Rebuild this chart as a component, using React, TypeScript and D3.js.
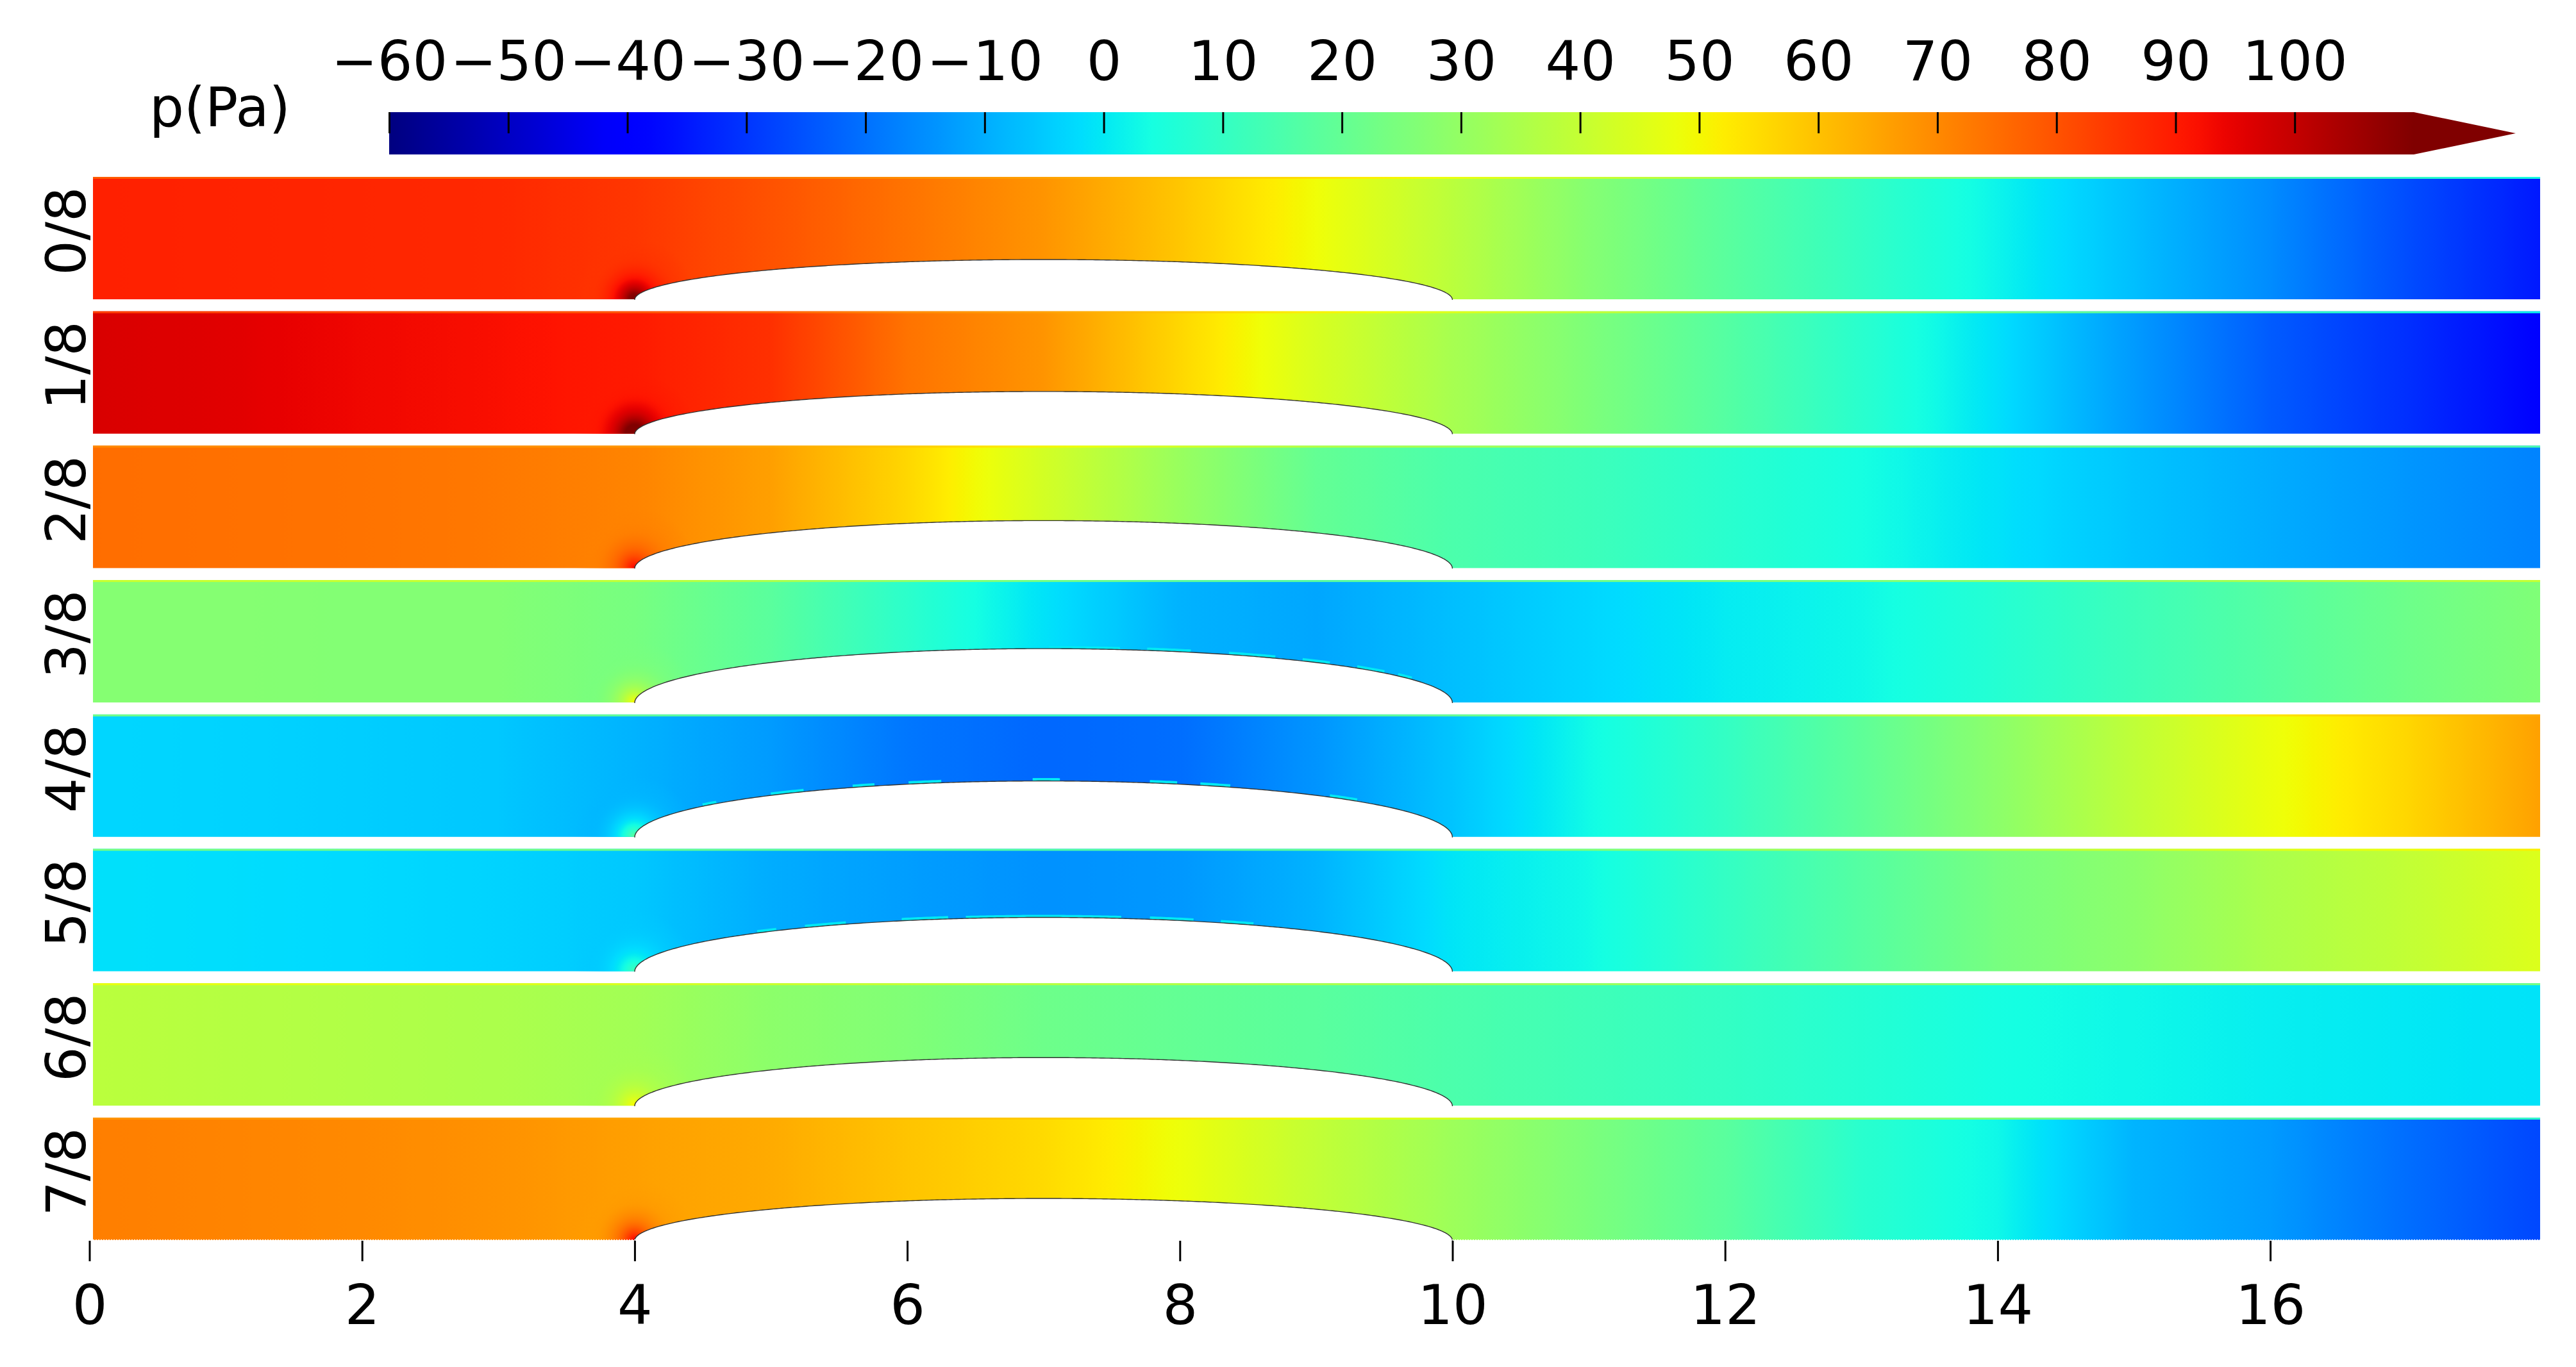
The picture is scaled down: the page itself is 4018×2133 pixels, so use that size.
import * as d3 from "d3";
import { useEffect, useRef } from "react";

const WIDTH = 4018;
const HEIGHT = 2133;

// phase of the cycle, one channel per row
const phases = ["0/8", "1/8", "2/8", "3/8", "4/8", "5/8", "6/8", "7/8"];

// streamwise stations (x = 0, 1, ... 18) where the pressure was read
const stations = d3.range(0, 19);

// pressure in Pa at each station, one list per phase
const p0 = [89, 88.5, 88, 87.5, 85, 80, 74, 68, 59, 49, 38, 27, 18, 10, 2, -7, -15.5, -26, -35];
const p1 = [97, 95.7, 93.5, 92, 90, 86, 74, 68, 56, 44, 34, 25.4, 17, 8, -1.4, -13, -23.5, -31, -39];
const p2 = [75, 74.5, 74, 73, 71, 66, 56, 43, 31, 20, 15, 12, 8, 4, -1, -6, -10, -13.7, -17];
const p3 = [27, 27, 26.5, 26.5, 24, 18, 8.5, -1, -9, -11, -7, -3, 0.5, 2.7, 7, 12, 17, 22, 26];
const p4 = [-3, -3.5, -4.5, -5.5, -9, -13, -19, -21.5, -20.5, -14, -6, 3, 10, 19, 28.5, 39, 48, 56, 66];
const p5 = [-1.3, -1.8, -2.5, -3.5, -5.5, -10, -12.5, -14.5, -13.5, -9, -0.5, 3, 10, 17, 24, 28.5, 35, 39.5, 45];
const p6 = [38, 37, 36, 35, 33, 28.5, 26, 22, 20, 18, 15, 12.5, 10, 7, 4, 2.5, 1, 0, -1];
const p7 = [72, 71, 70, 68.5, 66, 64, 59.5, 55.5, 48.5, 39.5, 32, 25, 18, 8, 2.5, -8.7, -13, -20.5, -27];
const pressures = [p0, p1, p2, p3, p4, p5, p6, p7];

// pressure at the corner where the hump starts
const cornerPeaks = [120, 130, 95, 52, 20, 14, 52, 95];

// hump height as a share of the channel height
const humpRise = [0.33, 0.35, 0.393, 0.445, 0.462, 0.445, 0.398, 0.345];

// stretches of the hump wall with the bright cell artefact, [from x, to x]
const wallPatches: [number, number][][] = [
  [],
  [],
  [],
  [[7.04, 7.56], [7.76, 8.08], [8.36, 8.7], [8.9, 9.1], [9.3, 9.5], [9.6, 9.7]],
  [[4.5, 4.6], [5.0, 5.25], [5.6, 5.76], [6.01, 6.26], [6.92, 7.12], [7.78, 7.98], [8.15, 8.37], [9.1, 9.3]],
  [[4.9, 5.05], [5.25, 5.55], [5.96, 6.3], [6.43, 7.57], [7.78, 8.1], [8.3, 8.55]],
  [],
  [],
];

const xTicks = [0, 2, 4, 6, 8, 10, 12, 14, 16];
const barTicks = [-60, -50, -40, -30, -20, -10, 0, 10, 20, 30, 40, 50, 60, 70, 80, 90, 100];

// matplotlib jet
const jetR = d3.scaleLinear().domain([0, 0.35, 0.66, 0.89, 1]).range([0, 0, 1, 1, 0.5]).clamp(true);
const jetG = d3.scaleLinear().domain([0, 0.125, 0.375, 0.64, 0.91, 1]).range([0, 0, 1, 1, 0, 0]).clamp(true);
const jetB = d3.scaleLinear().domain([0, 0.11, 0.34, 0.65, 1]).range([0.5, 1, 1, 0, 0]).clamp(true);
const norm = d3.scaleLinear().domain([-60, 110]).range([0, 1]).clamp(true);
const jet = (p: number) => {
  const t = norm(p);
  return d3.rgb(jetR(t) * 255, jetG(t) * 255, jetB(t) * 255).formatHex();
};

const FONT = "DejaVu Sans";
const FONT_SIZE = 86;
const SPOT_RADIUS = 95;

const App = () => {
  const ref = useRef<SVGSVGElement | null>(null);

  useEffect(() => {
    if (!ref.current) return;
    const svg = d3.select(ref.current);
    svg.selectAll("*").remove();
    const defs = svg.append("defs");

    const x = d3.scaleLinear().domain([0, 18]).range([139.5, 3966.3]);
    const barX = d3.scaleLinear().domain([-60, 110]).range([607, 3765]);
    const row = d3
      .scaleBand()
      .domain(phases)
      .range([276, 276 + 7 * 209.7 + 191])
      .paddingInner(0.0892);

    const channelLeft = x(0.026);
    const channelRight = x(17.98);

    // colorbar
    const barGrad = defs
      .append("linearGradient")
      .attr("id", "bar-grad")
      .attr("gradientUnits", "userSpaceOnUse")
      .attr("x1", barX(-60))
      .attr("x2", barX(110));
    d3.range(-60, 110.5, 2).forEach((p) => {
      barGrad.append("stop").attr("offset", norm(p)).attr("stop-color", jet(p));
    });
    svg
      .append("rect")
      .attr("x", barX(-60))
      .attr("y", 175)
      .attr("width", barX(110) - barX(-60))
      .attr("height", 66)
      .attr("fill", "url(#bar-grad)");
    svg
      .append("path")
      .attr("d", `M${barX(110)},175L3924,208L${barX(110)},241Z`)
      .attr("fill", jet(110));

    const barAxis = svg
      .append("g")
      .attr("transform", "translate(0,175)")
      .call(d3.axisTop(barX).tickValues(barTicks).tickSize(-33).tickPadding(50));
    barAxis.select(".domain").remove();
    barAxis.selectAll("line").attr("stroke", "#000").attr("stroke-width", 3);
    barAxis.selectAll("text").attr("font-family", FONT).attr("font-size", FONT_SIZE).attr("fill", "#000");

    svg
      .append("text")
      .attr("x", 233)
      .attr("y", 197)
      .attr("font-family", FONT)
      .attr("font-size", 85)
      .text("p(Pa)");

    // channels
    phases.forEach((phase, i) => {
      const top = row(phase)!;
      const h = row.bandwidth();
      const bottom = top + h;
      const y = d3.scaleLinear().domain([0, 1]).range([bottom, top]);
      const profile = d3.scaleLinear().domain(stations).range(pressures[i]);
      const g = svg.append("g");

      const grad = defs
        .append("linearGradient")
        .attr("id", `field-${i}`)
        .attr("gradientUnits", "userSpaceOnUse")
        .attr("x1", x(0))
        .attr("x2", x(18));
      const edge = defs
        .append("linearGradient")
        .attr("id", `edge-${i}`)
        .attr("gradientUnits", "userSpaceOnUse")
        .attr("x1", x(0))
        .attr("x2", x(18));
      d3.range(0, 18.01, 0.1).forEach((v) => {
        grad.append("stop").attr("offset", v / 18).attr("stop-color", jet(profile(v)));
        edge.append("stop").attr("offset", v / 18).attr("stop-color", jet(0.6 * profile(v) + 25));
      });

      g.append("rect")
        .attr("x", channelLeft)
        .attr("y", top)
        .attr("width", channelRight - channelLeft)
        .attr("height", h)
        .attr("fill", `url(#field-${i})`);
      g.append("rect")
        .attr("x", channelLeft)
        .attr("y", top)
        .attr("width", channelRight - channelLeft)
        .attr("height", 3)
        .attr("fill", `url(#edge-${i})`);

      // pressure spot in the corner at the start of the hump
      const ambient = profile(3.8);
      const spot = defs
        .append("radialGradient")
        .attr("id", `spot-${i}`)
        .attr("gradientUnits", "userSpaceOnUse")
        .attr("cx", x(4))
        .attr("cy", bottom)
        .attr("r", SPOT_RADIUS);
      d3.range(0, 1.001, 0.05).forEach((d) => {
        spot
          .append("stop")
          .attr("offset", d)
          .attr("stop-color", jet(ambient + (cornerPeaks[i] - ambient) * Math.pow(1 - d, 4)))
          .attr("stop-opacity", d < 0.5 ? 1 : (1 - d) * 2);
      });
      defs
        .append("clipPath")
        .attr("id", `clip-${i}`)
        .append("rect")
        .attr("x", channelLeft)
        .attr("y", top)
        .attr("width", channelRight - channelLeft)
        .attr("height", h);
      g.append("circle")
        .attr("cx", x(4))
        .attr("cy", bottom)
        .attr("r", SPOT_RADIUS)
        .attr("clip-path", `url(#clip-${i})`)
        .attr("fill", `url(#spot-${i})`);

      // elliptic hump, cut out of the field
      const wall = (v: number) =>
        humpRise[i] * Math.sqrt(Math.max(0, 1 - Math.pow((v - 7) / 3, 2)));
      const humpLine = d3
        .line<number>()
        .x((v) => x(v))
        .y((v) => y(wall(v)));

      wallPatches[i].forEach(([from, to]) => {
        g.append("path")
          .attr("d", humpLine(d3.range(from, to + 0.001, 0.02)))
          .attr("fill", "none")
          .attr("stroke", jet(0))
          .attr("stroke-width", to - from > 0.5 ? 6 : 7);
      });

      const humpPoints = [...d3.range(4, 4.1, 0.002), ...d3.range(4.1, 9.9, 0.02), ...d3.range(9.9, 10.0001, 0.002)];
      g.append("path")
        .attr("d", humpLine(humpPoints))
        .attr("transform", "translate(0,1)")
        .attr("fill", "#fff")
        .attr("stroke", "#333")
        .attr("stroke-width", 1.4);
      // hide the closing edge of the stroke under the hump
      g.append("rect")
        .attr("x", x(4) - 2)
        .attr("y", bottom + 1)
        .attr("width", x(10) - x(4) + 4)
        .attr("height", 6)
        .attr("fill", "#fff");

      g.append("text")
        .attr("transform", `translate(133,${top + h / 2 - 11}) rotate(-90)`)
        .attr("text-anchor", "middle")
        .attr("font-family", FONT)
        .attr("font-size", FONT_SIZE)
        .text(phase);
    });

    // the mesh leaves a dotted lower edge on the last channel
    const lastBottom = row(phases[7])! + row.bandwidth();
    svg
      .append("line")
      .attr("x1", channelLeft)
      .attr("x2", channelRight)
      .attr("y1", lastBottom - 0.5)
      .attr("y2", lastBottom - 0.5)
      .attr("stroke", "#fff")
      .attr("stroke-width", 1)
      .attr("stroke-dasharray", "2 2");

    // x axis
    const axis = svg
      .append("g")
      .attr("transform", "translate(0,1936)")
      .call(d3.axisBottom(x).tickValues(xTicks).tickSize(32).tickPadding(37).tickFormat(d3.format("d")));
    axis.select(".domain").remove();
    axis.selectAll("line").attr("stroke", "#000").attr("stroke-width", 3);
    axis.selectAll("text").attr("font-family", FONT).attr("font-size", FONT_SIZE).attr("fill", "#000");
  }, []);

  return (
    <svg
      ref={ref}
      width={WIDTH}
      height={HEIGHT}
      viewBox={`0 0 ${WIDTH} ${HEIGHT}`}
      style={{ position: "absolute", left: 0, top: 0, background: "#fff" }}
    />
  );
};

export default App;
